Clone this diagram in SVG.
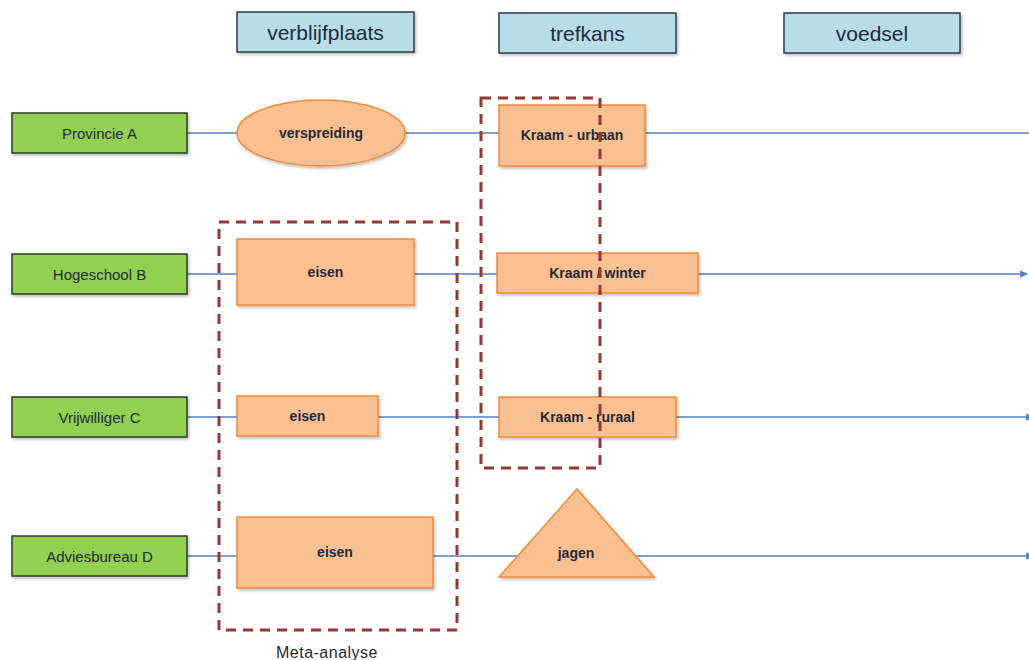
<svg xmlns="http://www.w3.org/2000/svg" width="1029" height="660" viewBox="0 0 1029 660">
<style>
.hdr{fill:#b7dde8;stroke:#2f3a4a;stroke-width:1.5}
.hdrt{font-family:"Liberation Sans",Arial,sans-serif;font-size:21px;fill:#1f2a3a;text-anchor:middle}
.grn{fill:#92d050;stroke:#2b3a2b;stroke-width:1.5}
.grnt{font-family:"Liberation Sans",Arial,sans-serif;font-size:15px;fill:#1f2a3a;text-anchor:middle}
.org{fill:#fac090;stroke:#f08a3c;stroke-width:1.5}
.orgt{font-family:"Liberation Sans",Arial,sans-serif;font-size:14px;font-weight:bold;fill:#1f2a3a;text-anchor:middle}
.con{stroke:#4f81bd;stroke-width:1.5;fill:none}
.dash{fill:none;stroke:#953735;stroke-width:3;stroke-dasharray:10 7}
.lbl{font-family:"Liberation Sans",Arial,sans-serif;font-size:16px;fill:#1f2a3a;text-anchor:middle;letter-spacing:0.5px}
</style>
<defs>
<marker id="arr" viewBox="0 0 10 10" refX="9" refY="5" markerWidth="5" markerHeight="5" orient="auto">
<path d="M0,0 L10,5 L0,10 z" fill="#4f81bd"/>
</marker>
<filter id="sh" x="-10%" y="-10%" width="130%" height="140%">
<feDropShadow dx="1.5" dy="2" stdDeviation="1.5" flood-color="#000" flood-opacity="0.25"/>
</filter>
</defs>
<rect width="1029" height="660" fill="#ffffff"/>
<g id="connectors">
<line class="con" x1="187" y1="133" x2="1029" y2="133"/>
<line class="con" x1="187" y1="274" x2="1027" y2="274" marker-end="url(#arr)"/>
<line class="con" x1="187" y1="417" x2="1033" y2="417" marker-end="url(#arr)"/>
<line class="con" x1="187" y1="556" x2="1033" y2="556" marker-end="url(#arr)"/>
</g>
<g id="h-verblijfplaats"><rect class="hdr" x="237" y="12" width="177" height="40" filter="url(#sh)"/><text class="hdrt" x="325.5" y="40">verblijfplaats</text></g>
<g id="h-trefkans"><rect class="hdr" x="499" y="13" width="177" height="40" filter="url(#sh)"/><text class="hdrt" x="587.5" y="41">trefkans</text></g>
<g id="h-voedsel"><rect class="hdr" x="784" y="13" width="176" height="40" filter="url(#sh)"/><text class="hdrt" x="872" y="41">voedsel</text></g>
<g id="provincie-a"><rect class="grn" x="12" y="113" width="175" height="40" filter="url(#sh)"/><text class="grnt" x="99.5" y="138.5">Provincie A</text></g>
<g id="hogeschool-b"><rect class="grn" x="12" y="254" width="175" height="40" filter="url(#sh)"/><text class="grnt" x="99.5" y="279.5">Hogeschool B</text></g>
<g id="vrijwilliger-c"><rect class="grn" x="12" y="397" width="175" height="40" filter="url(#sh)"/><text class="grnt" x="99.5" y="422.5">Vrijwilliger C</text></g>
<g id="adviesbureau-d"><rect class="grn" x="12" y="536" width="175" height="40" filter="url(#sh)"/><text class="grnt" x="99.5" y="561.5">Adviesbureau D</text></g>
<g id="verspreiding"><ellipse class="org" cx="321" cy="133" rx="84" ry="33" filter="url(#sh)"/><text class="orgt" x="321" y="138">verspreiding</text></g>
<g id="kraam-urbaan"><rect class="org" x="499" y="105" width="146" height="61" filter="url(#sh)"/><text class="orgt" x="572" y="140">Kraam - urbaan</text></g>
<g id="kraam-winter"><rect class="org" x="497" y="253" width="201" height="40" filter="url(#sh)"/><text class="orgt" x="597.5" y="278">Kraam / winter</text></g>
<g id="kraam-ruraal"><rect class="org" x="499" y="397" width="177" height="40" filter="url(#sh)"/><text class="orgt" x="587.5" y="422">Kraam - ruraal</text></g>
<g id="eisen-b"><rect class="org" x="237" y="239" width="177" height="66" filter="url(#sh)"/><text class="orgt" x="325.5" y="277">eisen</text></g>
<g id="eisen-c"><rect class="org" x="237" y="396" width="141" height="40" filter="url(#sh)"/><text class="orgt" x="307.5" y="421">eisen</text></g>
<g id="eisen-d"><rect class="org" x="237" y="517" width="196" height="71" filter="url(#sh)"/><text class="orgt" x="335" y="557">eisen</text></g>
<g id="jagen"><polygon class="org" points="577,489 654,577 499,577" filter="url(#sh)"/><text class="orgt" x="576" y="558">jagen</text></g>
<g id="meta-analyse"><rect class="dash" x="219" y="222" width="238" height="408"/><text class="lbl" x="327" y="658">Meta-analyse</text></g>
<g id="trefkans-groep"><rect class="dash" x="481" y="98" width="119" height="370"/></g>
</svg>
